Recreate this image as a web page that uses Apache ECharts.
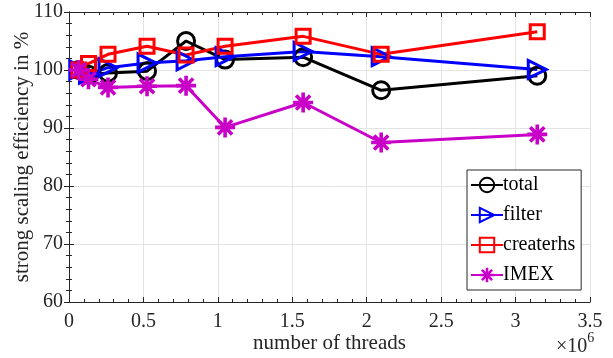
<!DOCTYPE html>
<html>
<head>
<meta charset="utf-8">
<script src="https://cdn.jsdelivr.net/npm/echarts@6/dist/echarts.min.js"></script>
<style>html,body{margin:0;padding:0;background:#fff}#c{width:613px;height:358px}</style>
</head>
<body>
<div id="c"></div>
<script>
const threads = [65536, 131072, 262144, 524288, 786432, 1048576, 1572864, 2097152, 3145728];
const totalEff = [100, 99.2, 99.5, 99.8, 105.0, 101.8, 102.2, 96.5, 99.0];
const filterEff = [100, 99.3, 100.4, 101.2, 101.6, 102.3, 103.2, 102.3, 100.1];
const createrhsEff = [100, 101.1, 102.7, 104.1, 102.6, 104.1, 105.8, 102.7, 106.6];
const imexEff = [100, 98.4, 97.0, 97.2, 97.3, 90.1, 94.4, 87.5, 88.9];
const seriesNames = ['total', 'filter', 'createrhs', 'IMEX'];
const xTickLabels = ['0', '0.5', '1', '1.5', '2', '2.5', '3', '3.5'];

const FONT = 'Liberation Serif';
const AX = '#262626';
const star = 'path://M0 8.2L20 8.2L20 11.8L0 11.8Z M8.2 0L11.8 0L11.8 20L8.2 20Z M4.2 1.66L18.34 15.8L15.8 18.34L1.66 4.2Z M18.34 4.2L4.2 18.34L1.66 15.8L15.8 1.66Z';

function pairs(ys) { return threads.map((x, i) => [x, ys[i]]); }
function mk(name, ys, color, symbol, size, rot, open) {
  return {
    name, type: 'line', data: pairs(ys), symbol, symbolSize: size, symbolRotate: rot,
    showAllSymbol: true, animation: false,
    lineStyle: { color, width: 3 },
    itemStyle: open ? { color: 'rgba(0,0,0,0)', borderColor: color, borderWidth: 3 } : { color, borderWidth: 0 },
    emphasis: { disabled: true }
  };
}
const chart = echarts.init(document.getElementById('c'), null, { renderer: 'canvas' });
const axisCommon = {
  axisLine: { show: true, lineStyle: { color: AX, width: 1 } },
  axisTick: { show: true, inside: true, length: 5, lineStyle: { color: AX } },
  minorTick: { show: true, splitNumber: 5, length: 3, lineStyle: { color: AX } },
};
chart.setOption({
  animation: false,
  textStyle: { fontFamily: FONT },
  grid: { left: 69, right: 23, top: 12, bottom: 56, containLabel: false, outerBoundsMode: 'none' },
  xAxis: [{
    type: 'value', min: 0, max: 3500000, interval: 500000,
    ...axisCommon,
    axisLabel: { color: AX, fontSize: 20, fontFamily: FONT, margin: 10,
      formatter: v => xTickLabels[Math.round(v / 500000)] },
    splitLine: { show: true, lineStyle: { color: '#e3e3e3', width: 1 } },
    name: 'number of threads', nameLocation: 'middle', nameGap: 31, nameMoveOverlap: false,
    nameTextStyle: { color: AX, fontSize: 21, fontFamily: FONT }
  }, {
    type: 'value', position: 'top', min: 0, max: 3500000, interval: 500000,
    ...axisCommon, axisLabel: { show: false }, splitLine: { show: false }
  }],
  yAxis: [{
    type: 'value', min: 60, max: 110, interval: 10,
    ...axisCommon,
    axisLabel: { color: AX, fontSize: 20, fontFamily: FONT, margin: 6 },
    splitLine: { show: true, lineStyle: { color: '#e3e3e3', width: 1 } },
    name: 'strong scaling efficiency in %', nameLocation: 'middle', nameGap: 36, nameMoveOverlap: false,
    nameTextStyle: { color: AX, fontSize: 21, fontFamily: FONT }
  }, {
    type: 'value', position: 'right', min: 60, max: 110, interval: 10,
    ...axisCommon, axisLabel: { show: false }, splitLine: { show: false }
  }],
  legend: {
    orient: 'vertical', left: 467, top: 170,
    backgroundColor: '#fff', borderColor: AX, borderWidth: 1,
    padding: [5, 6, 5, 3], itemWidth: 32, itemHeight: 18, itemGap: 10,
    textStyle: { fontSize: 20, fontFamily: FONT, color: '#000', padding: [0, 0, 0, -5] },
    data: seriesNames
  },
  series: [
    mk(seriesNames[0], totalEff, '#000000', 'circle', 17, 0, true),
    mk(seriesNames[1], filterEff, '#0000ff', 'triangle', 18, -90, true),
    mk(seriesNames[2], createrhsEff, '#ff0000', 'rect', 14, 0, true),
    mk(seriesNames[3], imexEff, '#c800c8', star, 20, 0, false)
  ],
  graphic: [{
    type: 'text', left: 556, top: 331,
    style: {
      text: '{a|×10}{b|6}', fill: AX,
      rich: {
        a: { fontSize: 20, fontFamily: FONT, fill: AX, verticalAlign: 'bottom' },
        b: { fontSize: 14, fontFamily: FONT, fill: AX, verticalAlign: 'top', padding: [0, 0, 12, 0] }
      }
    }
  }]
});
</script>
</body>
</html>
